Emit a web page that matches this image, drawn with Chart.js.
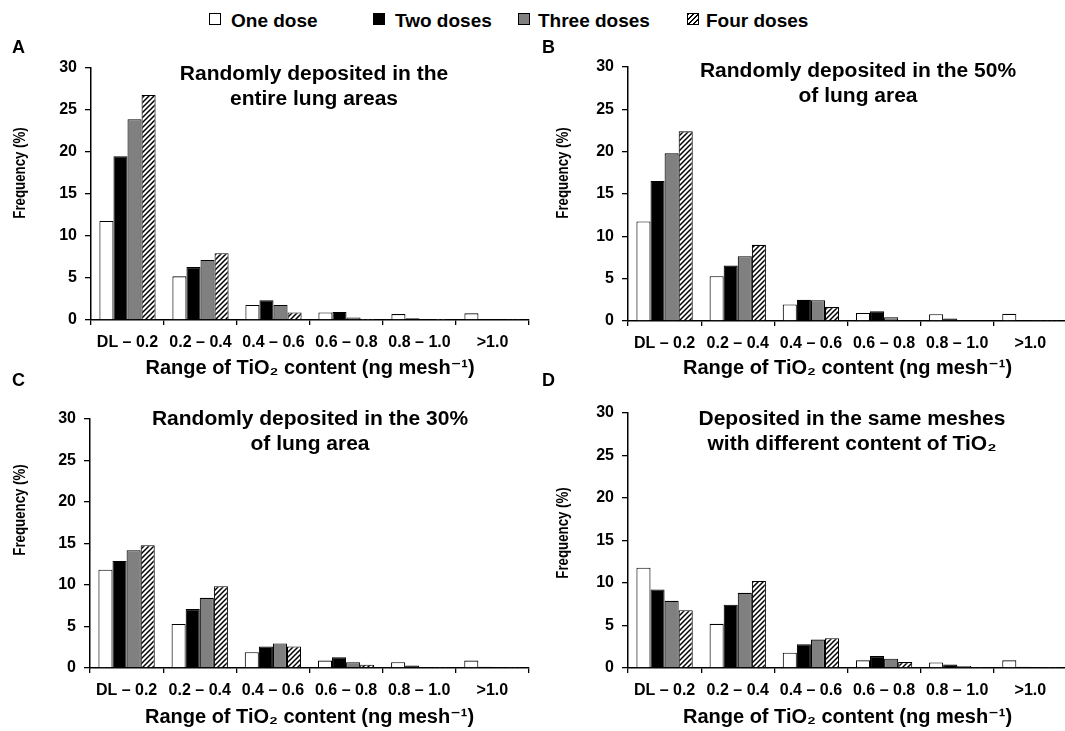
<!DOCTYPE html>
<html><head><meta charset="utf-8">
<script src="https://cdn.jsdelivr.net/npm/chart.js@4.4.1/dist/chart.umd.min.js"></script>
<style>
html,body{margin:0;padding:0;background:#fff;}
body{width:1065px;height:731px;overflow:hidden;position:relative;font-family:"Liberation Sans",Arial,sans-serif;}
.pn{position:absolute;}
.lg{position:absolute;top:10px;font-weight:bold;font-size:19px;line-height:22px;color:#000;white-space:nowrap;}
.sw{position:absolute;top:13px;width:10px;height:10px;border:1.5px solid #000;}
</style></head><body>
<div class="sw" style="left:209px;background:#fff"></div><div class="lg" style="left:231px">One dose</div>
<div class="sw" style="left:373px;background:#000"></div><div class="lg" style="left:395px">Two doses</div>
<div class="sw" style="left:518px;background:#808080"></div><div class="lg" style="left:538px">Three doses</div>
<div class="sw" style="left:687px;background:repeating-linear-gradient(135deg,#000 0 1.4px,#fff 1.4px 3.5px)"></div><div class="lg" style="left:706px">Four doses</div>

<div class="pn" style="left:0;top:30px"><canvas id="cA" width="535" height="350"></canvas></div>
<div class="pn" style="left:535px;top:30px"><canvas id="cB" width="532" height="350"></canvas></div>
<div class="pn" style="left:0;top:365px"><canvas id="cC" width="535" height="366"></canvas></div>
<div class="pn" style="left:535px;top:365px"><canvas id="cD" width="532" height="366"></canvas></div>
<script>
const categories = ['DL \u2013 0.2', '0.2 \u2013 0.4', '0.4 \u2013 0.6', '0.6 \u2013 0.8', '0.8 \u2013 1.0', '>1.0'];
const seriesNames = ['One dose', 'Two doses', 'Three doses', 'Four doses'];
const yTicks = [0, 5, 10, 15, 20, 25, 30];

// Panel A
const aOne   = [11.8, 5.2, 1.8, 0.9, 0.7, 0.8];
const aTwo   = [19.5, 6.3, 2.35, 0.95, 0.2, 0.1];
const aThree = [23.9, 7.15, 1.8, 0.3, 0.1, 0.08];
const aFour  = [26.8, 7.95, 0.9, 0.03, 0.03, 0.05];
// Panel B
const bOne   = [11.75, 5.3, 1.95, 0.95, 0.8, 0.85];
const bTwo   = [16.55, 6.55, 2.5, 1.15, 0.3, 0.1];
const bThree = [19.8, 7.65, 2.45, 0.45, 0.1, 0.05];
const bFour  = [22.4, 9.0, 1.65, 0.1, 0.1, 0.05];
// Panel C
const cOne   = [11.85, 5.3, 1.9, 0.9, 0.7, 0.9];
const cTwo   = [12.9, 7.1, 2.6, 1.3, 0.3, 0.15];
const cThree = [14.2, 8.45, 2.95, 0.7, 0.1, 0.1];
const cFour  = [14.8, 9.85, 2.6, 0.4, 0.05, 0.05];
// Panel D
const dOne   = [11.8, 5.2, 1.8, 0.9, 0.65, 0.9];
const dTwo   = [9.25, 7.45, 2.8, 1.4, 0.4, 0.15];
const dThree = [7.9, 8.85, 3.35, 1.1, 0.25, 0.1];
const dFour  = [6.8, 10.25, 3.5, 0.7, 0.05, 0.05];

const titleA = ['Randomly deposited in the', 'entire lung areas'];
const titleB = ['Randomly deposited in the 50%', 'of lung area'];
const titleC = ['Randomly deposited in the 30%', 'of lung area'];
const titleD = ['Deposited in the same meshes', 'with different content of TiO\u2082'];
const xTitle = 'Range of TiO\u2082 content (ng mesh\u207B\u00B9)';
const yTitle = 'Frequency (%)';

const FONT = '"Liberation Sans", Arial, "DejaVu Sans", sans-serif';

function hatch() {
  const c = document.createElement('canvas');
  c.width = 5; c.height = 5;
  const x = c.getContext('2d');
  x.fillStyle = '#fff'; x.fillRect(0, 0, 5, 5);
  x.strokeStyle = '#000'; x.lineWidth = 1.5;
  x.beginPath();
  x.moveTo(-1, 6); x.lineTo(6, -1);
  x.moveTo(-1, 1); x.lineTo(1, -1);
  x.moveTo(4, 6); x.lineTo(6, 4);
  x.stroke();
  return document.createElement('canvas').getContext('2d').createPattern(c, 'repeat');
}
const pattern = hatch();
const fills = ['#ffffff', '#000000', '#808080', pattern];

const panelText = {
  id: 'panelText',
  afterDraw(chart, args, o) {
    const ctx = chart.ctx;
    ctx.save();
    ctx.fillStyle = '#000';
    ctx.textBaseline = 'middle';
    ctx.textAlign = 'left';
    ctx.font = 'bold 18px ' + FONT;
    ctx.fillText(o.letter, o.lx, o.ly);
    ctx.textAlign = 'center';
    ctx.font = 'bold 20px ' + FONT;
    o.lines.forEach((t, i) => {
      ctx.save();
      ctx.translate(o.cx, o.ty + i * 25);
      ctx.scale(1.05, 1);
      ctx.fillText(t, 0, 0);
      ctx.restore();
    });
    // y-axis title
    ctx.save();
    ctx.font = 'bold 17px ' + FONT;
    ctx.translate(o.yx, o.yy);
    ctx.rotate(-Math.PI / 2);
    ctx.scale(0.78, 1);
    ctx.fillText(yTitle, 0, 0);
    ctx.restore();
    ctx.restore();
  }
};

function makeChart(id, series, g) {
  const datasets = series.map((vals, i) => ({
    label: seriesNames[i],
    data: vals,
    backgroundColor: fills[i],
    borderColor: '#000',
    borderWidth: 1.1,
    borderSkipped: 'bottom',
    categoryPercentage: 0.77,
    barPercentage: 1.0
  }));
  return new Chart(document.getElementById(id), {
    type: 'bar',
    data: { labels: categories, datasets },
    plugins: [panelText],
    options: {
      responsive: false,
      animation: false,
      devicePixelRatio: 1,
      layout: { padding: { top: g.top, right: g.right, left: 0, bottom: 0 } },
      plugins: {
        legend: { display: false },
        tooltip: { enabled: false },
        panelText: g.text
      },
      scales: {
        x: {
          type: 'category',
          offset: true,
          grid: { offset: true, drawOnChartArea: false, drawTicks: true, tickLength: 5, color: '#000', lineWidth: 1.3 },
          border: { display: true, color: '#000', width: 1.5 },
          ticks: { color: '#000', font: { family: FONT, size: 16, weight: 'bold' }, maxRotation: 0, autoSkip: false, padding: 8 },
          title: { display: true, text: xTitle, color: '#000', font: { family: FONT, size: 20, weight: 'bold' }, padding: { top: 0, bottom: g.xtp } },
          afterFit(s) { s.height = g.xh; }
        },
        y: {
          min: 0, max: 30,
          afterBuildTicks(s) { s.ticks = yTicks.map(v => ({ value: v })); },
          grid: { drawOnChartArea: false, drawTicks: true, tickLength: 6, color: '#000', lineWidth: 1.3 },
          border: { display: true, color: '#000', width: 1.5 },
          ticks: { color: '#000', font: { family: FONT, size: 16, weight: 'bold' }, padding: 8 },
          title: { display: false },
          afterFit(s) { s.width = g.yw; }
        }
      }
    }
  });
}

makeChart('cA', [aOne, aTwo, aThree, aFour], { top: 38, right: 6, yw: 91, xh: 60, xtp: 0,
  text: { letter: 'A', lx: 12, ly: 18, lines: titleA, cx: 314, ty: 44, yx: 20, yy: 143 } });
makeChart('cB', [bOne, bTwo, bThree, bFour], { top: 37, right: 0, yw: 93, xh: 59, xtp: 0,
  text: { letter: 'B', lx: 7, ly: 18, lines: titleB, cx: 323, ty: 41, yx: 28, yy: 143 } });
makeChart('cC', [cOne, cTwo, cThree, cFour], { top: 54, right: 6, yw: 90, xh: 63, xtp: 2,
  text: { letter: 'C', lx: 12, ly: 16, lines: titleC, cx: 310, ty: 54, yx: 20, yy: 145 } });
makeChart('cD', [dOne, dTwo, dThree, dFour], { top: 48, right: 0, yw: 93, xh: 63, xtp: 2,
  text: { letter: 'D', lx: 7, ly: 16, lines: titleD, cx: 317, ty: 54, yx: 28, yy: 168 } });
</script>
</body></html>
